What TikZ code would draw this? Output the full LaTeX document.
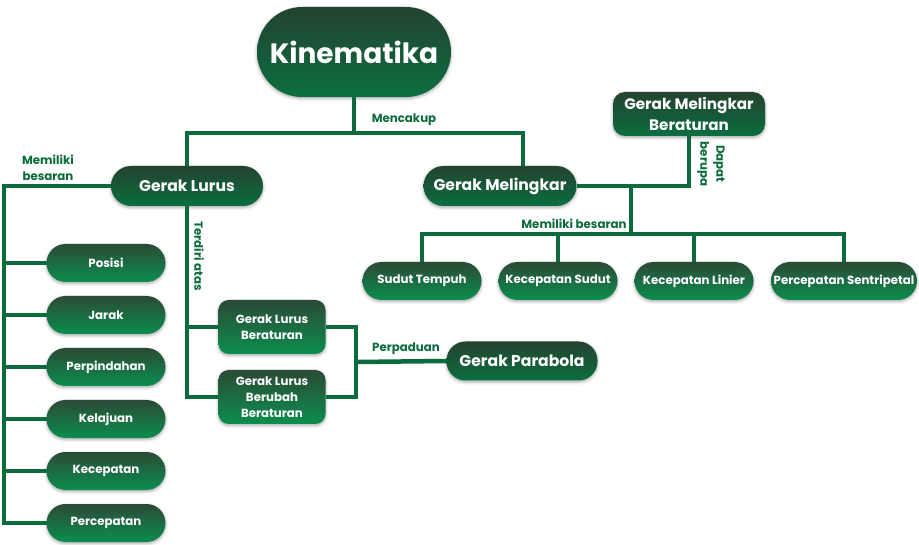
\documentclass[tikz,border=0pt]{standalone}
\usepackage{fontspec}
\setmainfont{Poppins}
\usetikzlibrary{shadows.blur}
\definecolor{lineG}{HTML}{0B6B3C}
\definecolor{boxTop}{HTML}{2B4A36}
\definecolor{boxBot}{HTML}{0B8E4F}
\definecolor{mainTop}{HTML}{24432F}
\definecolor{mainBot}{HTML}{0A6E40}
\tikzset{
  conn/.style={draw=lineG, line width=4.5pt},
  box/.style={rounded corners=#1, top color=boxTop, bottom color=boxBot,
    text=white, align=center, inner sep=0pt,
    font=\bfseries\fontsize{11.8}{16}\selectfont,
    blur shadow={shadow xshift=0pt, shadow yshift=-1.5pt,
      shadow blur radius=3pt, shadow opacity=35}},
  mainbox/.style={box=#1, top color=mainTop, bottom color=mainBot,
    font=\bfseries\fontsize{15.6}{21}\selectfont},
  lbl/.style={text=lineG, align=center, inner sep=0pt,
    font=\bfseries\fontsize{11.8}{16}\selectfont}
}
\begin{document}
\begin{tikzpicture}[x=1pt, y=-1pt]
  \useasboundingbox (0,0) rectangle (919,545);
  % main nodes
  \node[mainbox=45pt, minimum width=194pt, minimum height=90pt,
    font=\bfseries\fontsize{28}{32}\selectfont] (kin) at (354,52) {Kinematika};
  \node[mainbox=20pt, minimum width=152pt, minimum height=40pt] (lurus) at (187,186) {Gerak Lurus};
  \node[mainbox=20pt, minimum width=153pt, minimum height=40pt] (meling) at (500,186) {Gerak Melingkar};
  \node[mainbox=12pt, minimum width=152pt, minimum height=44pt,
    font=\bfseries\fontsize{15.2}{21}\selectfont] (gmb) at (689,114) {Gerak Melingkar\\Beraturan};
  \node[mainbox=19pt, minimum width=151pt, minimum height=39pt] (parabola) at (522,361) {Gerak Parabola};
  % gerak lurus beraturan
  \node[box=10pt, minimum width=107pt, minimum height=54pt] (glb) at (272,327) {Gerak Lurus\\Beraturan};
  \node[box=10pt, minimum width=107pt, minimum height=54pt] (glbb) at (272,397) {Gerak Lurus\\Berubah\\Beraturan};
  % besaran gerak lurus
  \foreach \name/\txt/\y in {posisi/Posisi/263, jarak/Jarak/315, pindah/Perpindahan/367,
      laju/Kelajuan/419, cepat/Kecepatan/471, percepatan/Percepatan/523}
    \node[box=19pt, minimum width=119pt, minimum height=38pt] (\name) at (106,\y) {\txt};
  % besaran gerak melingkar
  \node[box=19pt, minimum width=119pt, minimum height=38pt] (sudut) at (422,281) {Sudut Tempuh};
  \node[box=19pt, minimum width=119pt, minimum height=38pt] (kecsud) at (558,281) {Kecepatan Sudut};
  \node[box=19pt, minimum width=119pt, minimum height=38pt] (keclin) at (694,281) {Kecepatan Linier};
  \node[box=19pt, minimum width=146pt, minimum height=38pt] (sentri) at (844,281) {Percepatan Sentripetal};
  % junctions
  \coordinate (top) at (354,133);
  \coordinate (lv) at (4,186);
  \coordinate (mb) at (631,234);
  \coordinate (pp) at (356,362);
  % connectors
  \begin{scope}[conn]
    \draw (kin.south) -- (top);
    \draw (lurus.north) |- (top) -| ([xshift=23pt]meling.north);
    \draw (lurus.west) -- (lv) |- (percepatan.west);
    \foreach \name in {posisi, jarak, pindah, laju, cepat}
      \draw (lv |- \name.west) -- (\name.west);
    \draw (lurus.south) |- (glbb.west);
    \draw (lurus.south |- glb.west) -- (glb.west);
    \draw (glb.east) -| (pp) |- (glbb.east);
    \draw (pp) -- (parabola.west);
    \draw (meling.east) -| (gmb.south);
    \draw (meling.east -| mb) -- (mb);
    \draw (sudut.north) |- (mb) -| (sentri.north);
    \draw (kecsud.north) -- (kecsud.north |- mb);
    \draw (keclin.north) -- (keclin.north |- mb);
  \end{scope}
  % labels
  \node[lbl] (l1) at (404,120) {Mencakup};
  \node[lbl] (l2) at (48,168) {Memiliki\\besaran};
  \node[lbl, rotate=-90] (l3) at (199,256) {Terdiri atas};
  \node[lbl] (l4) at (406,349) {Perpaduan};
  \node[lbl] (l5) at (574,224) {Memiliki besaran};
  \node[lbl, rotate=-90] (l6) at (711,164) {Dapat\\berupa};
\end{tikzpicture}
\end{document}
